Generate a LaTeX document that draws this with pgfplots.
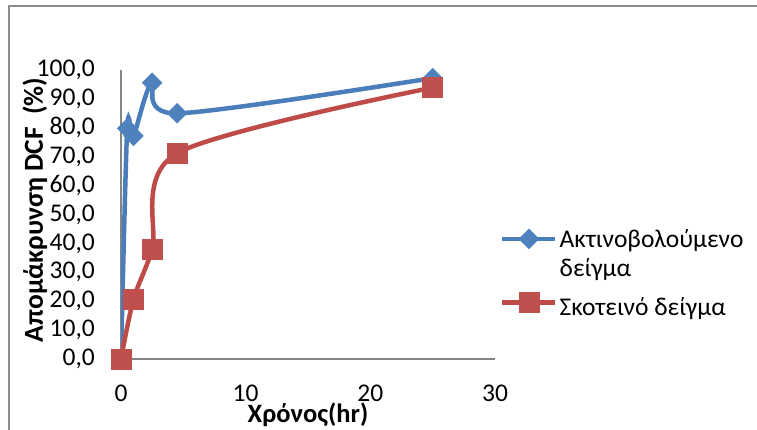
\documentclass[border=0pt]{standalone}
\usepackage{fontspec}
\setmainfont{Carlito}
\usepackage{pgfplots}
\pgfplotsset{compat=1.18}

\definecolor{serA}{HTML}{4A7EBB}
\definecolor{serAm}{HTML}{4F81BD}
\definecolor{serB}{HTML}{BE4B48}
\definecolor{serBm}{HTML}{C0504D}
\definecolor{axgray}{HTML}{868686}
\definecolor{framegray}{HTML}{8C8C8C}

\begin{document}
\begin{tikzpicture}[x=1pt,y=1pt]
\path[use as bounding box] (0,0) rectangle (757,430);
\clip (0,0) rectangle (757,430);
% outer chart frame
\draw[framegray, line width=2pt] (8.8,-20) -- (8.8,424) -- (780,424);
\begin{axis}[
  at={(121pt,71pt)}, anchor=south west,
  scale only axis, width=374pt, height=289pt,
  xmin=0, xmax=30, ymin=0, ymax=100,
  axis lines=left,
  axis line style={-, draw=axgray, line width=1.3pt},
  xtick={0,10,20,30}, ytick={0,10,...,100},
  major tick length=0pt,
  /pgf/number format/assume math mode=true,
  tick label style={font=\fontsize{25.5}{26}\selectfont, inner sep=0pt},
  yticklabel style={/pgf/number format/fixed, /pgf/number format/fixed zerofill,
    /pgf/number format/precision=1, /pgf/number format/use comma,
    anchor=east, xshift=-26pt},
  xticklabel style={anchor=north, yshift=-26pt},
  xlabel={Χρόνος(hr)},
  xlabel style={font=\fontsize{26.5}{27}\selectfont\bfseries, at={(axis description cs:0.5,0)}, anchor=base, yshift=-63.5pt},
  every axis y label/.style={font=\fontsize{27.5}{28}\selectfont\bfseries,
    at={(axis description cs:-0.2086,0.5156)}, anchor=base, rotate=90},
  ylabel={Απομάκρυνση DCF\ \ (\%)},
  legend style={at={(axis description cs:1.0134,0.457)}, anchor=north west, draw=none, fill=none, inner sep=0pt,
    font=\fontsize{25.5}{26}\selectfont, row sep=6pt, column sep=0pt},
  legend cell align=left,
  legend image code/.code={\draw[#1, mark=none] (0pt,0pt) -- (53pt,0pt);
    \draw[#1, only marks] plot coordinates {(26.5pt,0pt)};},
]
\addplot[serA, line width=4.5pt, smooth, mark=square*, mark size=7pt,
  mark options={rotate=45, fill=serAm, draw=serAm, line width=0.5pt}]
  coordinates {(0,0) (0.5,79.8) (1,77.2) (2.5,95.6) (4.5,85.0) (25,97.2)};
\addlegendentry{Ακτινοβολούμενο}
\addlegendimage{empty legend}
\addlegendentry{δείγμα}
\addplot[serB, line width=4.5pt, smooth, mark=square*, mark size=10pt,
  mark options={fill=serBm, draw=serBm, line width=0.5pt}]
  coordinates {(0,0) (1,20.6) (2.5,38.0) (4.5,71.2) (25,93.9)};
\addlegendentry{\rule{0pt}{27pt}Σκοτεινό δείγμα}
\end{axis}
\end{tikzpicture}
\end{document}
